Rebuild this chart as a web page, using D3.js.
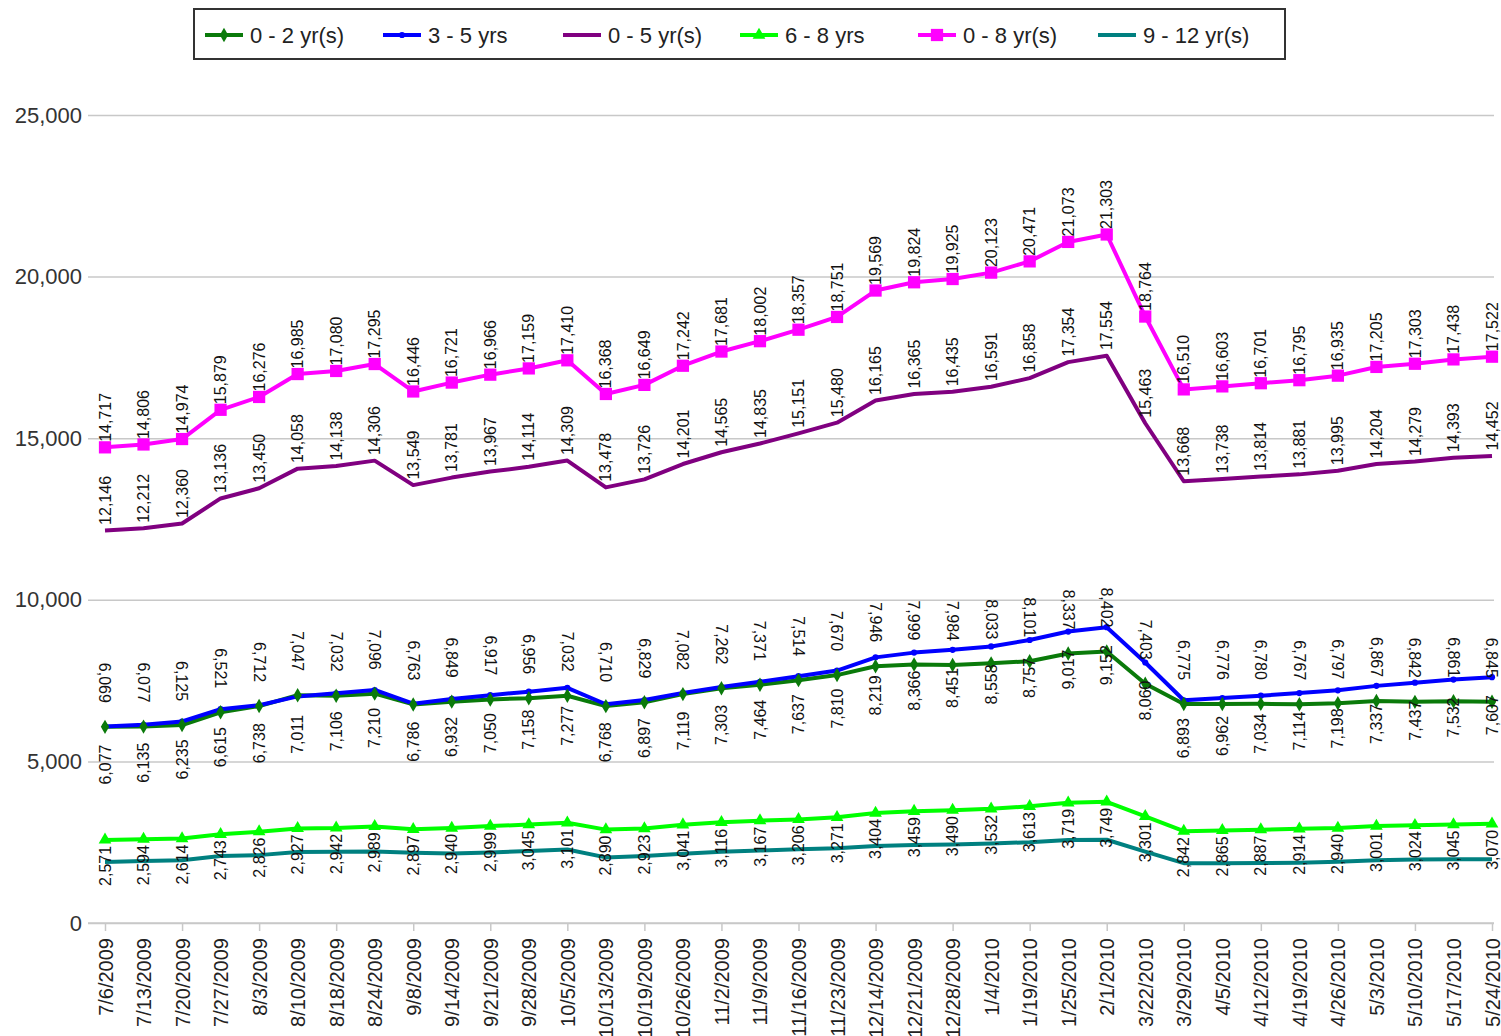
<!DOCTYPE html>
<html>
<head>
<meta charset="utf-8">
<script src="https://cdn.jsdelivr.net/npm/d3@7/dist/d3.min.js"></script>
<style>
  html, body { margin: 0; padding: 0; background: #fff; }
  svg { display: block; font-family: "Liberation Sans", Arial, sans-serif; }
</style>
</head>
<body>
<svg id="chart" width="1501" height="1036"></svg>
<script>
const categories = ["7/6/2009","7/13/2009","7/20/2009","7/27/2009","8/3/2009","8/10/2009","8/18/2009","8/24/2009","9/8/2009","9/14/2009","9/21/2009","9/28/2009","10/5/2009","10/13/2009","10/19/2009","10/26/2009","11/2/2009","11/9/2009","11/16/2009","11/23/2009","12/14/2009","12/21/2009","12/28/2009","1/4/2010","1/19/2010","1/25/2010","2/1/2010","3/22/2010","3/29/2010","4/5/2010","4/12/2010","4/19/2010","4/26/2010","5/3/2010","5/10/2010","5/17/2010","5/24/2010"];

const s0to2 = [6069,6077,6125,6521,6712,7047,7032,7096,6763,6849,6917,6956,7032,6710,6829,7082,7262,7371,7514,7670,7946,7999,7984,8033,8101,8337,8402,7403,6775,6776,6780,6767,6797,6867,6842,6861,6845];
const s3to5 = [6077,6135,6235,6615,6738,7011,7106,7210,6786,6932,7050,7158,7277,6768,6897,7119,7303,7464,7637,7810,8219,8366,8451,8558,8757,9017,9152,8060,6893,6962,7034,7114,7198,7337,7437,7532,7607];
const s0to5 = [12146,12212,12360,13136,13450,14058,14138,14306,13549,13781,13967,14114,14309,13478,13726,14201,14565,14835,15151,15480,16165,16365,16435,16591,16858,17354,17554,15463,13668,13738,13814,13881,13995,14204,14279,14393,14452];
const s6to8 = [2571,2594,2614,2743,2826,2927,2942,2989,2897,2940,2999,3045,3101,2890,2923,3041,3116,3167,3206,3271,3404,3459,3490,3532,3613,3719,3749,3301,2842,2865,2887,2914,2940,3001,3024,3045,3070];
const s0to8 = [14717,14806,14974,15879,16276,16985,17080,17295,16446,16721,16966,17159,17410,16368,16649,17242,17681,18002,18357,18751,19569,19824,19925,20123,20471,21073,21303,18764,16510,16603,16701,16795,16935,17205,17303,17438,17522];
const s9to12 = [1890,1915,1940,2070,2100,2200,2205,2210,2170,2150,2185,2230,2275,2030,2075,2140,2205,2240,2280,2310,2380,2410,2430,2460,2500,2570,2575,2210,1850,1850,1855,1865,1895,1945,1965,1970,1975];

const seriesNames = ["0 - 2 yr(s)","3 - 5 yrs","0 - 5 yr(s)","6 - 8 yrs","0 - 8 yr(s)","9 - 12 yr(s)"];
const seriesValues = [s0to2, s3to5, s0to5, s6to8, s0to8, s9to12];
const yTicks = [0, 5000, 10000, 15000, 20000, 25000];

// styles (not data)
const styles = [
  {color:"#0a7a0a", marker:"diamond", msize:60, label:{side:"up", rot:90, off:44}},
  {color:"#0000ff", marker:"circle", msize:30, label:{side:"down", rot:-90, off:38}},
  {color:"#800080", marker:null, msize:0, label:{side:"up", rot:-90, off:30}},
  {color:"#00ff00", marker:"triangle", msize:70, label:{side:"down", rot:-90, off:26}},
  {color:"#ff00ff", marker:"square", msize:150, label:{side:"up", rot:-90, off:30}},
  {color:"#008080", marker:null, msize:0, label:null}
];

const svg = d3.select("#chart");
const plotLeft = 88, plotRight = 1494;
const x = d3.scalePoint().domain(categories).range([105, 1492]);
const y = d3.scaleLinear().domain([0, 25000]).range([923, 115]);

// Gridlines + y labels
const yAxis = d3.axisLeft(y).tickValues(yTicks).tickFormat(d3.format(",")).tickSize(-(plotRight - plotLeft)).tickPadding(6);
const gy = svg.append("g").attr("transform", `translate(${plotLeft},0)`).call(yAxis);
gy.select(".domain").remove();
gy.selectAll(".tick line").attr("stroke", "#c8c8c8").attr("stroke-width", 1.5);
gy.selectAll(".tick text").attr("font-size", 22).attr("fill", "#333").attr("dx", -0);

// x axis line & ticks
const xTickAxis = d3.axisBottom(x).tickValues(categories.filter((d, i) => i % 2 === 0)).tickFormat("").tickSize(8).tickSizeOuter(0);
const gxt = svg.append("g").attr("transform", `translate(0,${y(0)})`).call(xTickAxis);
gxt.select(".domain").attr("d", `M${plotLeft},0H${plotRight}`).attr("stroke", "#c8c8c8").attr("stroke-width", 1.5);
gxt.selectAll(".tick line").attr("stroke", "#c8c8c8").attr("stroke-width", 1.5);

const xLabelAxis = d3.axisBottom(x).tickSize(0).tickPadding(0);
const gxl = svg.append("g").attr("transform", `translate(0,${y(0)})`).call(xLabelAxis);
gxl.select(".domain").remove();
gxl.selectAll(".tick text")
  .attr("font-size", 20).attr("fill", "#222")
  .attr("text-anchor", "end")
  .attr("transform", "translate(0,15) rotate(-90)")
  .attr("x", 0).attr("y", 0).attr("dy", "0.35em");

// lines
const line = d3.line().x((d, i) => x(categories[i])).y(d => y(d));
const drawOrder = [5, 3, 2, 4, 0, 1];
drawOrder.forEach(k => {
  svg.append("path").datum(seriesValues[k])
    .attr("fill", "none").attr("stroke", styles[k].color)
    .attr("stroke-width", 4).attr("stroke-linejoin", "round")
    .attr("d", line);
});

const symMap = {diamond: d3.symbolDiamond, circle: d3.symbolCircle, triangle: d3.symbolTriangle, square: d3.symbolSquare};
// markers
[3, 4, 1, 0].forEach(k => {
  const st = styles[k];
  svg.append("g").selectAll("path").data(seriesValues[k]).join("path")
    .attr("d", d3.symbol().type(symMap[st.marker]).size(st.msize))
    .attr("fill", st.color)
    .attr("transform", (d, i) => `translate(${x(categories[i])},${y(d)})`);
});

// data labels
const fmt = d3.format(",");
[4, 2, 0, 1, 3].forEach(k => {
  const st = styles[k];
  const L = st.label;
  svg.append("g").selectAll("text").data(seriesValues[k]).join("text")
    .attr("font-size", 16).attr("fill", "#111")
    .attr("text-anchor", "middle")
    .attr("dy", "0.35em")
    .attr("transform", (d, i) => {
      const px = x(categories[i]);
      const py = y(d) + (L.side === "up" ? -L.off : L.off);
      return `translate(${px},${py}) rotate(${L.rot})`;
    })
    .text(d => fmt(d));
});

// legend
const lg = svg.append("g");
lg.append("rect").attr("x", 194).attr("y", 9).attr("width", 1091).attr("height", 50)
  .attr("fill", "#fff").attr("stroke", "#333").attr("stroke-width", 2);
const legendX = [205, 383, 563, 740, 918, 1098];
seriesNames.forEach((name, k) => {
  const st = styles[k];
  const g = lg.append("g").attr("transform", `translate(${legendX[k]},35)`);
  g.append("line").attr("x1", 0).attr("x2", 38).attr("y1", 0).attr("y2", 0)
    .attr("stroke", st.color).attr("stroke-width", 4);
  if (st.marker) {
    g.append("path").attr("d", d3.symbol().type(symMap[st.marker]).size(st.msize))
      .attr("fill", st.color).attr("transform", "translate(19,0)");
  }
  g.append("text").attr("x", 45).attr("y", 0).attr("dy", "0.35em")
    .attr("font-size", 22).attr("fill", "#222").text(name);
});
</script>
</body>
</html>
